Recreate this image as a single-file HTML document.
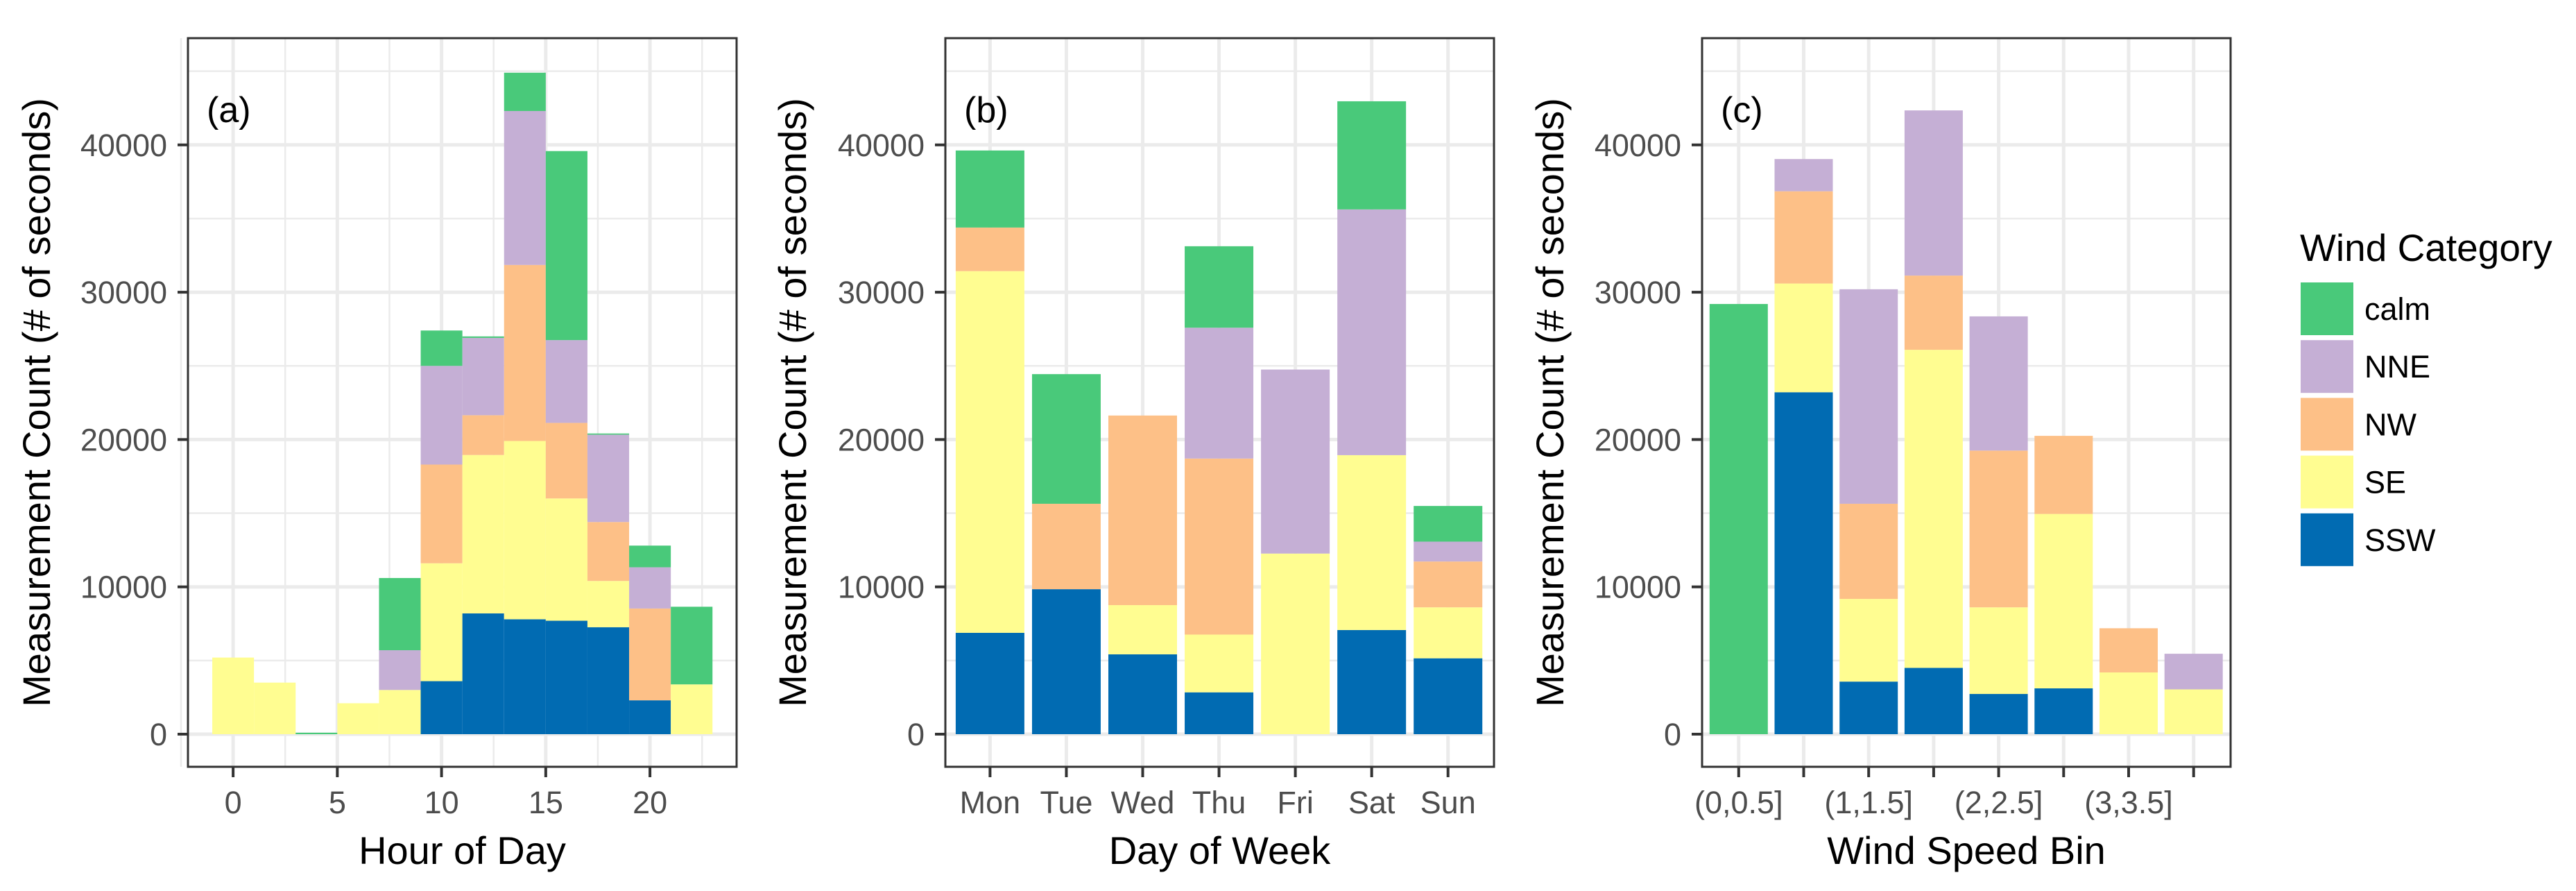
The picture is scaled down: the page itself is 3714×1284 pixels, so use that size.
<!DOCTYPE html>
<html><head><meta charset="utf-8"><style>
html,body{margin:0;padding:0;background:#fff}
svg text{font-family:"Liberation Sans",Arial,sans-serif}
</style></head><body>
<svg id="chart" width="3714" height="1279" xmlns="http://www.w3.org/2000/svg"></svg>
<script>
const seriesNames = ["SSW","SE","NW","NNE","calm"];
const colors = {calm:"#49c97a",NNE:"#c5afd5",NW:"#fdc087",SE:"#fffd91",SSW:"#016bb2"};
const yTicks = [0,10000,20000,30000,40000];

// Panel (a): hour of day (bin centers), stacked SSW,SE,NW,NNE,calm
const hours = [0,2,4,6,8,10,12,14,16,18,20,22];
const hourSSW = [0,0,0,0,0,3600,8200,7800,7700,7260,2300,0];
const hourSE = [5200,3500,0,2100,3000,8000,10750,12100,8300,3140,0,3380];
const hourNW = [0,0,0,0,0,6700,2700,11950,5130,4000,6230,0];
const hourNNE = [0,0,0,0,2700,6700,5250,10450,5620,5930,2800,0];
const hourCalm = [0,0,100,0,4900,2400,100,2600,12830,80,1470,5270];
const hourTicks = [0,5,10,15,20];

// Panel (b): day of week
const days = ["Mon","Tue","Wed","Thu","Fri","Sat","Sun"];
const daySSW = [6880,9840,5420,2840,0,7070,5150];
const daySE = [24550,0,3340,3920,12260,11870,3460];
const dayNW = [2960,5800,12870,11950,0,0,3110];
const dayNNE = [0,0,0,8880,12490,16680,1350];
const dayCalm = [5230,8800,0,5530,0,7340,2420];

// Panel (c): wind speed bin
const bins = ["(0,0.5]","(0.5,1]","(1,1.5]","(1.5,2]","(2,2.5]","(2.5,3]","(3,3.5]","(3.5,4]"];
const binLabels = ["(0,0.5]","","(1,1.5]","","(2,2.5]","","(3,3.5]",""];
const binSSW = [0,23210,3570,4500,2730,3110,0,0];
const binSE = [0,7380,5610,21590,5880,11840,4190,3040];
const binNW = [0,6260,6460,5040,10640,5300,3000,0];
const binNNE = [0,2190,14560,11210,9110,0,0,2420];
const binCalm = [29200,0,0,0,0,0,0,0];

const NS="http://www.w3.org/2000/svg";
const svg=document.getElementById('chart');
function mk(tag,attrs,parent){const e=document.createElementNS(NS,tag);for(const k in attrs)e.setAttribute(k,attrs[k]);(parent||svg).appendChild(e);return e;}

const plotTop=55, plotBottom=1105;
const y0px=1058, pxPer=212.3/10000;
function yScale(v){return y0px - v*pxPer;}

function panel(opt){
  const g=mk('g',{});
  
  
  [5000,15000,25000,35000,45000].forEach(v=>{const l=mk('line',{x1:opt.left,x2:opt.right,y1:yScale(v),y2:yScale(v),stroke:'#ebebeb','stroke-width':2.5},g);
    
    });
  opt.minorX.forEach(x=>{const l=mk('line',{x1:x,x2:x,y1:plotTop,y2:plotBottom,stroke:'#ebebeb','stroke-width':2.5},g);
    
    });
  yTicks.forEach(v=>{const l=mk('line',{x1:opt.left,x2:opt.right,y1:yScale(v),y2:yScale(v),stroke:'#ebebeb','stroke-width':5},g);
    
    });
  opt.majorX.forEach(x=>{const l=mk('line',{x1:x,x2:x,y1:plotTop,y2:plotBottom,stroke:'#ebebeb','stroke-width':5},g);
    
    });
  opt.bars.forEach(b=>{
    let cum=0;
    seriesNames.forEach((s,i)=>{const v=b.vals[i]; if(v<=0)return;
      const r=mk('rect',{x:b.x-b.w/2,y:yScale(cum+v),width:b.w,height:yScale(cum)-yScale(cum+v),fill:colors[s]},g);
      
      
      cum+=v;});
  });
  const br=mk('rect',{x:opt.left,y:plotTop,width:opt.right-opt.left,height:plotBottom-plotTop,fill:'none',stroke:'#333','stroke-width':3},g);
  
  
  yTicks.forEach(v=>{mk('line',{x1:opt.left-15,x2:opt.left,y1:yScale(v),y2:yScale(v),stroke:'#333','stroke-width':4},g);
    const t=mk('text',{x:opt.left-30,y:yScale(v)+16,'font-size':45,fill:'#4d4d4d','text-anchor':'end'},g);t.textContent=v;
    
    });
  opt.xTicks.forEach(tk=>{mk('line',{x1:tk.x,x2:tk.x,y1:plotBottom,y2:plotBottom+15,stroke:'#333','stroke-width':4},g);
    if(tk.label){const t=mk('text',{x:tk.x,y:1172,'font-size':45,fill:'#4d4d4d','text-anchor':'middle'},g);t.textContent=tk.label;
    
    }});
  const xt=mk('text',{x:(opt.left+opt.right)/2,y:1245,'font-size':56,fill:'#000','text-anchor':'middle'},g);xt.textContent=opt.xTitle;
  
  
  const cy=(plotTop+plotBottom)/2;
  const yt=mk('text',{x:opt.yTitleX,y:cy,'font-size':56,fill:'#000','text-anchor':'middle',transform:`rotate(-90 ${opt.yTitleX} ${cy})`},g);yt.textContent='Measurement Count (# of seconds)';
  
  
  const pl=mk('text',{x:opt.left+27,y:176,'font-size':52,fill:'#000'},g);pl.textContent=opt.letter;
  
  
}

(function(){
  const left=271,right=1062;
  const hx=h=>336.1+h*30.05;
  const bars=hours.map((h,i)=>({x:hx(h),w:2*30.05,vals:[hourSSW[i],hourSE[i],hourNW[i],hourNNE[i],hourCalm[i]]}));
  panel({name:'panel-a-hour',left,right,bars,
    majorX:hourTicks.map(hx),minorX:[-2.5,2.5,7.5,12.5,17.5,22.5].map(hx),
    xTicks:hourTicks.map(h=>({x:hx(h),label:String(h)})),
    xTitle:'Hour of Day',yTitleX:72,letter:'(a)'});
})();
(function(){
  const left=1363,right=2154;
  const dx=i=>1427.4+i*110.05;
  const bars=days.map((d,i)=>({x:dx(i),w:99,vals:[daySSW[i],daySE[i],dayNW[i],dayNNE[i],dayCalm[i]]}));
  panel({name:'panel-b-day',left,right,bars,
    majorX:days.map((d,i)=>dx(i)),minorX:[],
    xTicks:days.map((d,i)=>({x:dx(i),label:d})),
    xTitle:'Day of Week',yTitleX:1162,letter:'(b)'});
})();
(function(){
  const left=2454,right=3216;
  const cx=i=>2506.8+i*93.7;
  const bars=bins.map((b,i)=>({x:cx(i),w:84,vals:[binSSW[i],binSE[i],binNW[i],binNNE[i],binCalm[i]]}));
  panel({name:'panel-c-wind-speed',left,right,bars,
    majorX:bins.map((b,i)=>cx(i)),minorX:[],
    xTicks:bins.map((b,i)=>({x:cx(i),label:binLabels[i]})),
    xTitle:'Wind Speed Bin',yTitleX:2254,letter:'(c)'});
})();

(function(){
  const g=mk('g',{});
  
  
  const t=mk('text',{x:3316,y:376,'font-size':55,fill:'#000'},g);t.textContent='Wind Category';
  
  
  ["calm","NNE","NW","SE","SSW"].forEach((s,i)=>{
    const y=407+i*83.2;
    const r=mk('rect',{x:3317,y:y,width:76,height:76,fill:colors[s]},g);
    
    
    const lt=mk('text',{x:3409,y:y+54,'font-size':45,fill:'#000'},g);lt.textContent=s;
    
    
  });
})();
</script>
</body></html>
